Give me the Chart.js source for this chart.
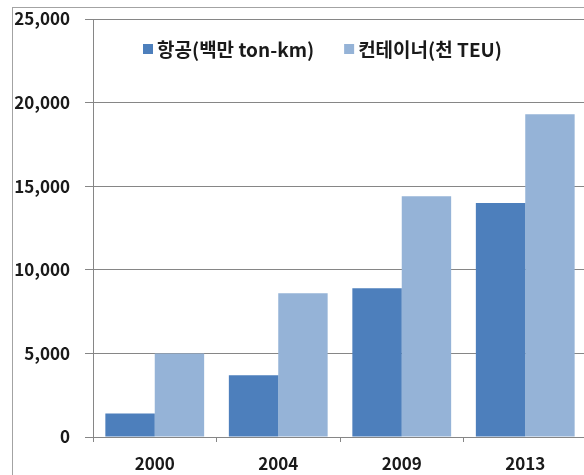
<!DOCTYPE html>
<html>
<head>
<meta charset="utf-8">
<script src="https://cdn.jsdelivr.net/npm/chart.js@4/dist/chart.umd.min.js"></script>
<style>
  html, body { margin: 0; padding: 0; background: #fff; overflow: hidden; }
  #frame {
    position: absolute; left: 12px; top: 7px; width: 700px; height: 600px;
    border-left: 1px solid #a3a3a3; border-top: 1px solid #a3a3a3;
  }
  #wrap { position: absolute; left: 0; top: 0; width: 600px; height: 475px; }
</style>
</head>
<body>
<div id="frame"></div>
<div id="wrap"><canvas id="chart" width="600" height="475"></canvas></div>
<script>
// values
const years = ['2000', '2004', '2009', '2013'];
const airValues = [1400, 3700, 8900, 14000];          // 항공(백만 ton-km)
const containerValues = [5000, 8600, 14400, 19300];   // 컨테이너(천 TEU)
const yMax = 25000;
const yStep = 5000;

const FONT = '"Noto Sans CJK KR", "Noto Sans", sans-serif';
const TEXT = '#1a1a1a';
const GRID = '#868686';

/**
 * Legend drawn inside the plot area, like the original
 */
const insideLegend = {
  id: 'insideLegend',
  afterDraw(chart) {
    const ctx = chart.ctx;
    const area = chart.chartArea;
    ctx.save();
    ctx.font = 'bold 19px ' + FONT;
    ctx.textBaseline = 'middle';
    let x = area.left + 50;
    const y = area.top + 30;
    chart.data.datasets.forEach(ds => {
      ctx.fillStyle = ds.backgroundColor;
      ctx.fillRect(x, y - 5, 10, 10);
      x += 14;
      ctx.fillStyle = TEXT;
      ctx.fillText(ds.label, x, y + 1);
      x += ctx.measureText(ds.label).width + 30;
    });
    ctx.restore();
  }
};

new Chart(document.getElementById('chart'), {
  type: 'bar',
  data: {
    labels: years,
    datasets: [
      {
        label: '항공(백만 ton-km)',
        data: airValues,
        backgroundColor: '#4d7fbc',
        categoryPercentage: 0.8,
        barPercentage: 1.0,
      },
      {
        label: '컨테이너(천 TEU)',
        data: containerValues,
        backgroundColor: '#95b3d7',
        categoryPercentage: 0.8,
        barPercentage: 1.0,
      },
    ],
  },
  options: {
    responsive: false,
    animation: false,
    devicePixelRatio: 1,
    layout: { padding: { left: 12, top: 19, right: 13, bottom: 0 } },
    plugins: {
      legend: { display: false },
      tooltip: { enabled: false },
    },
    scales: {
      x: {
        offset: true,
        grid: {
          display: true,
          drawOnChartArea: false,
          drawTicks: true,
          tickLength: 5,
          color: GRID,
          offset: true,
        },
        border: { display: true, color: GRID },
        ticks: {
          color: TEXT,
          padding: 11,
          font: { family: FONT, size: 17, weight: 'bold' },
        },
        afterFit(scale) {
          scale.height = 38;
          scale.paddingLeft = 0;
          scale.paddingRight = 0;
        },
      },
      y: {
        min: 0,
        max: yMax,
        ticks: {
          stepSize: yStep,
          color: TEXT,
          padding: 15,
          font: { family: FONT, size: 17, weight: 'bold' },
          callback: v => v.toLocaleString('en-US'),
        },
        grid: { color: GRID, tickLength: 8 },
        border: { display: true, color: GRID },
        afterFit(scale) {
          // fixed axis width, and no extra room for the top label
          scale.width = 81;
          scale.paddingTop = 0;
          scale.paddingBottom = 0;
        },
      },
    },
  },
  plugins: [insideLegend],
});
</script>
</body>
</html>
